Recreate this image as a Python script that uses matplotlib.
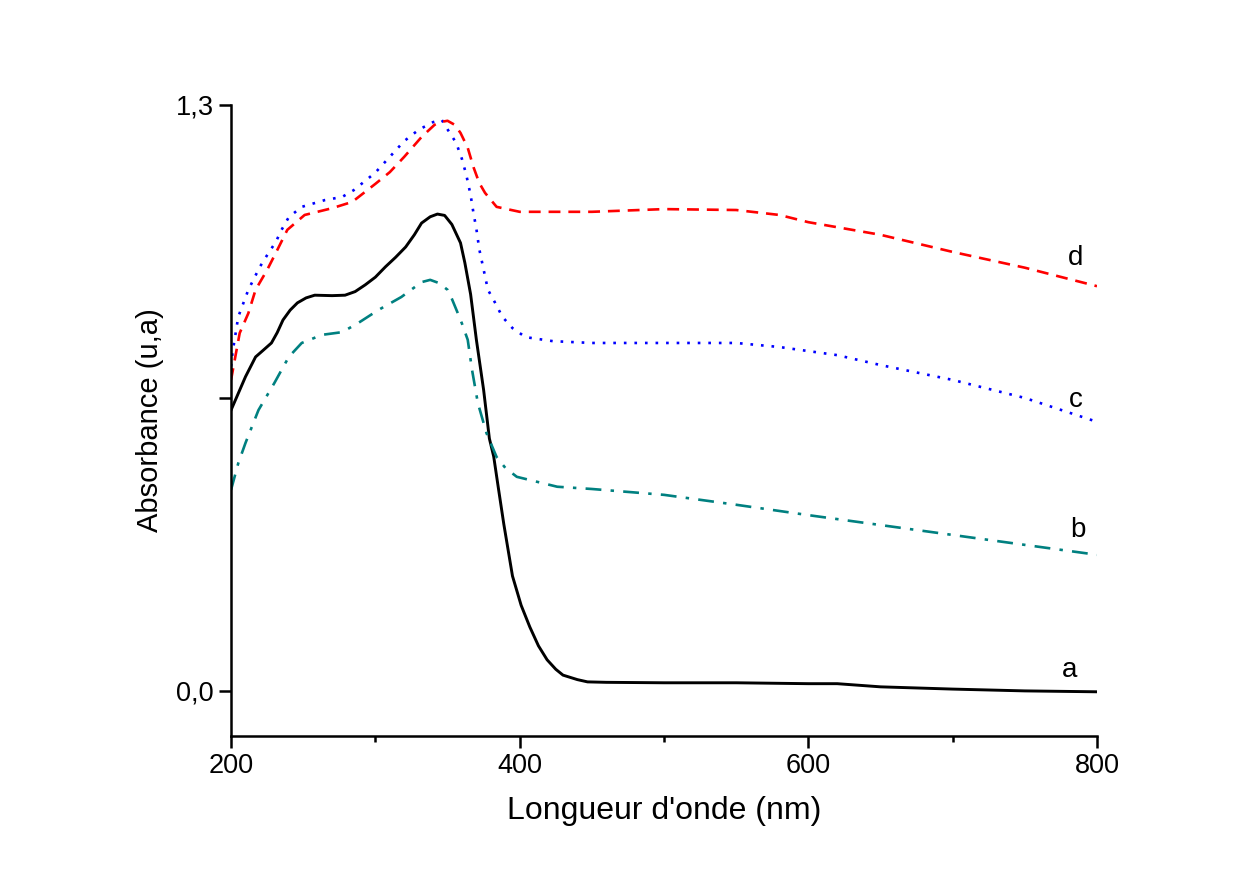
import numpy as np
import matplotlib.pyplot as plt

plt.rcParams['font.family'] = ['Liberation Sans', 'DejaVu Sans']

# sample a (black, solid)
wl_a = [200, 205, 210, 217, 222, 228, 232, 236, 241, 246, 252, 258, 270, 279, 286, 293, 300, 307,
        314, 321, 327, 332, 338, 343, 348, 353, 359, 362, 366, 370, 375, 379, 382, 385, 389, 395,
        401, 407, 413, 419, 425, 430, 440, 447, 460, 500, 550, 600, 620, 650, 700, 750, 800]
abs_a = [0.623, 0.660, 0.697, 0.741, 0.755, 0.772, 0.795, 0.823, 0.845, 0.861, 0.872, 0.878, 0.877,
         0.878, 0.886, 0.901, 0.918, 0.941, 0.962, 0.985, 1.012, 1.038, 1.052, 1.058, 1.055, 1.035,
         0.994, 0.950, 0.880, 0.779, 0.668, 0.560, 0.520, 0.455, 0.370, 0.255, 0.190, 0.142, 0.100,
         0.069, 0.048, 0.035, 0.025, 0.020, 0.019, 0.018, 0.018, 0.016, 0.016, 0.009, 0.004, 0.000,
         -0.002]

# sample b (teal, dash-dot)
wl_b = [200, 205, 210, 219, 230, 240, 249, 263, 277, 288, 302, 318, 332, 338, 344, 350, 353, 357,
        360, 364, 367, 371, 377, 384, 390, 398, 426, 450, 500, 550, 600, 650, 700, 750, 800]
abs_b = [0.446, 0.505, 0.550, 0.623, 0.683, 0.741, 0.772, 0.790, 0.796, 0.816, 0.845, 0.874, 0.907,
         0.912, 0.905, 0.890, 0.870, 0.839, 0.815, 0.779, 0.712, 0.639, 0.572, 0.519, 0.495, 0.475,
         0.453, 0.448, 0.435, 0.413, 0.390, 0.368, 0.346, 0.324, 0.302]

# sample c (blue, dotted)
wl_c = [200, 201, 205, 212, 220, 226, 231, 235, 240, 249, 265, 277, 285, 300, 310, 320, 330, 340,
        346, 350, 356, 360, 363, 366, 368, 370, 372, 375, 378, 383, 388, 395, 404, 423, 450, 500,
        550, 580, 620, 650, 700, 750, 800]
abs_c = [0.720, 0.750, 0.830, 0.890, 0.941, 0.972, 0.996, 1.023, 1.051, 1.074, 1.089, 1.096, 1.111,
         1.150, 1.185, 1.220, 1.245, 1.262, 1.267, 1.246, 1.216, 1.180, 1.145, 1.100, 1.060, 1.025,
         0.980, 0.935, 0.890, 0.861, 0.830, 0.805, 0.785, 0.776, 0.772, 0.772, 0.772, 0.763, 0.745,
         0.723, 0.690, 0.650, 0.597]

# sample d (red, dashed)
wl_d = [200, 206, 212, 217, 225, 232, 239, 251, 270, 284, 300, 310, 320, 332, 341, 345, 350, 355,
        359, 364, 368, 372, 376, 384, 400, 450, 500, 550, 580, 600, 650, 700, 750, 800]
abs_d = [0.690, 0.794, 0.838, 0.890, 0.934, 0.978, 1.023, 1.056, 1.071, 1.085, 1.125, 1.151, 1.185,
         1.229, 1.256, 1.262, 1.265, 1.256, 1.238, 1.205, 1.162, 1.127, 1.105, 1.074, 1.063, 1.063,
         1.069, 1.067, 1.056, 1.040, 1.012, 0.974, 0.939, 0.898]

labels = ['a', 'b', 'c', 'd']
label_pos = [(781, 0.047), (787, 0.357), (785, 0.646), (785, 0.961)]

fig = plt.figure(figsize=(12.57, 8.75), dpi=100)
ax = fig.add_axes([0.1838, 0.1589, 0.6889, 0.7211])

ax.plot(wl_a, abs_a, color='black', lw=2.1, ls='-')
ax.plot(wl_b, abs_b, color='#008080', lw=1.9, ls=(0, (6, 3.5, 1.3, 3.5)))
ax.plot(wl_c, abs_c, color='#0000ff', lw=1.9, ls=(0, (1, 3)))
ax.plot(wl_d, abs_d, color='#ff0000', lw=1.9, ls=(0, (4.5, 3)))

for lab, (x, y) in zip(labels, label_pos):
    ax.text(x, y, lab, fontsize=20, ha='center', va='center')

ax.set_xlim(200, 800)
ax.set_ylim(-0.1, 1.3)
ax.set_xticks([200, 400, 600, 800])
ax.set_xticks([300, 500, 700], minor=True)
ax.set_yticks([0, 0.65, 1.3])
ax.set_yticklabels(['0,0', '', '1,3'])

for s in ['top', 'right']:
    ax.spines[s].set_visible(False)
for s in ['left', 'bottom']:
    ax.spines[s].set_linewidth(1.8)

ax.tick_params(which='major', length=8.5, width=1.8, labelsize=19.5, pad=4, direction='out')
ax.tick_params(which='minor', length=4.5, width=1.8, direction='out')

ax.set_xlabel("Longueur d'onde (nm)", fontsize=23, labelpad=12)
ax.set_ylabel('Absorbance (u,a)', fontsize=21, labelpad=8)

fig.savefig('out.png', dpi=100)
